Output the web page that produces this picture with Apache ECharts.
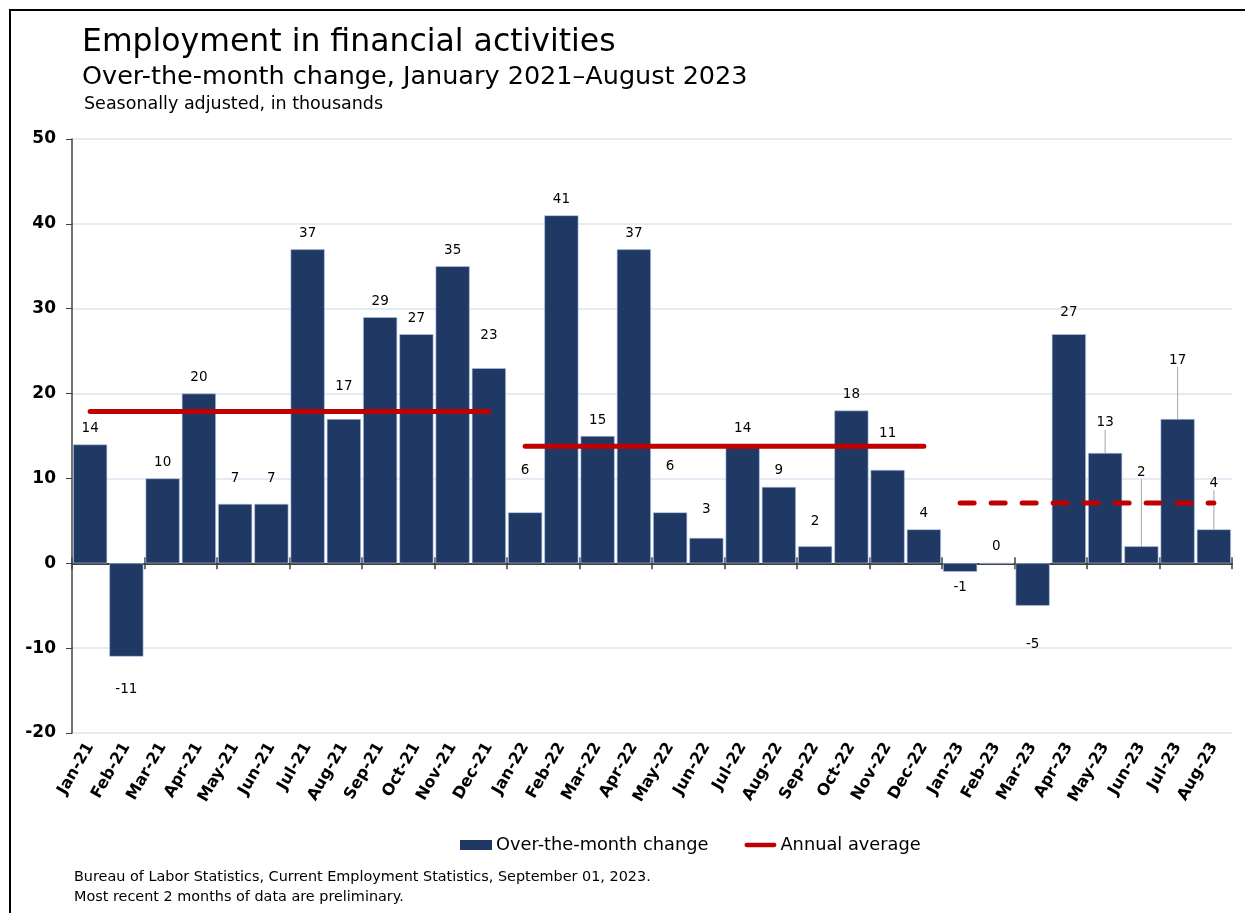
<!DOCTYPE html>
<html>
<head>
<meta charset="utf-8">
<script src="https://cdn.jsdelivr.net/npm/echarts@6/dist/echarts.min.js"></script>
<style>
  html, body { margin: 0; padding: 0; background: #fff; }
  #chart { width: 1245px; height: 913px; position: relative; }
  #frame { position: absolute; left: 9px; top: 9px; width: 1240px; height: 910px;
           border-top: 2px solid #000; border-left: 2px solid #000; pointer-events: none; }
</style>
</head>
<body>
<div id="chart"></div>
<div id="frame"></div>
<script>
// ---- data ----
const categories = ['Jan-21','Feb-21','Mar-21','Apr-21','May-21','Jun-21','Jul-21','Aug-21','Sep-21','Oct-21','Nov-21','Dec-21',
                    'Jan-22','Feb-22','Mar-22','Apr-22','May-22','Jun-22','Jul-22','Aug-22','Sep-22','Oct-22','Nov-22','Dec-22',
                    'Jan-23','Feb-23','Mar-23','Apr-23','May-23','Jun-23','Jul-23','Aug-23'];
const monthlyChange = [14, -11, 10, 20, 7, 7, 37, 17, 29, 27, 35, 23,
                       6, 41, 15, 37, 6, 3, 14, 9, 2, 18, 11, 4,
                       -1, 0, -5, 27, 13, 2, 17, 4];
const avgYears = ['21', '22', '23'];
const annualAverage = [17.9, 13.8, 7.1];
const yTicks = { min: -20, max: 50, interval: 10 };

// ---- label layout (style only: extra pixel nudge away from bar end) ----
const labelNudge = [0,17,0,0,9,9,0,17,0,0,0,17, 26,0,0,0,30,12,0,0,9,0,20,0, 0,0,23,6,14,58,43,30];
const leaderLineIdx = [28, 29, 30, 31];

const FONT = "'DejaVu Sans', Verdana, sans-serif";
const BOLD = "'DejaVu Sans', Verdana, sans-serif";

const barData = monthlyChange.map((v, i) => {
  const item = { value: v, label: { position: v < 0 ? 'bottom' : 'top' } };
  if (leaderLineIdx.includes(i)) {
    item.labelLine = { show: true, lineStyle: { color: '#A6A6A6', width: 1 } };
  }
  return item;
});

const avgSeries = avgYears.map((yy, k) => ({
  name: 'Annual average',
  type: 'line',
  xAxisIndex: 0,
  symbol: 'none',
  silent: true,
  z: 5,
  lineStyle: { color: '#C00000', width: 5, cap: 'round', type: k === 2 ? [14, 17] : 'solid' },
  itemStyle: { color: '#C00000' },
  data: categories.map(c => c.endsWith('-' + yy) ? annualAverage[k] : '-')
}));

const chart = echarts.init(document.getElementById('chart'), null, { renderer: 'canvas' });
chart.setOption({
  animation: false,
  backgroundColor: '#fff',
  title: [
    { text: 'Employment in financial activities', left: 82, top: 27, padding: 0,
      textStyle: { fontFamily: FONT, fontSize: 31.5, fontWeight: 'normal', color: '#000' } },
    { text: 'Over-the-month change, January 2021\u2013August 2023', left: 82, top: 64, padding: 0,
      textStyle: { fontFamily: FONT, fontSize: 25.5, fontWeight: 'normal', color: '#000' } },
    { text: 'Seasonally adjusted, in thousands', left: 84, top: 95, padding: 0,
      textStyle: { fontFamily: FONT, fontSize: 17.5, fontWeight: 'normal', color: '#000' } },
    { text: 'Bureau of Labor Statistics, Current Employment Statistics, September 01, 2023.\nMost recent 2 months of data are preliminary.',
      left: 74, top: 867, padding: 0,
      textStyle: { fontFamily: FONT, fontSize: 14.4, lineHeight: 20, fontWeight: 'normal', color: '#000' } }
  ],
  legend: {
    left: 455, top: 831,
    itemWidth: 32, itemHeight: 10, itemGap: 36,
    itemStyle: { borderWidth: 0 },
    textStyle: { fontFamily: FONT, fontSize: 17.8, color: '#000', padding: [0, 0, 0, -1] },
    data: [
      { name: 'Over-the-month change', icon: 'rect' },
      { name: 'Annual average', icon: 'path://M2.5,0 L34.5,0 A2.5,2.5 0 0 1 34.5,5 L2.5,5 A2.5,2.5 0 0 1 2.5,0 Z' }
    ]
  },
  grid: { left: 72, right: 13, top: 139, bottom: 180 },
  xAxis: [
    { type: 'category', data: categories, position: 'bottom',
      axisLine: { show: false, onZero: false }, axisTick: { show: false },
      axisLabel: { rotate: 60, interval: 0, margin: 11, fontFamily: BOLD, fontWeight: 'bold', fontSize: 16, color: '#000' } },
    { type: 'category', data: categories, position: 'bottom',
      axisLine: { show: true, onZero: true, onZeroAxisIndex: 0, lineStyle: { color: '#404040', width: 2 } },
      axisTick: { show: true, length: 6, lineStyle: { color: '#404040', width: 1.5 } },
      axisLabel: { show: false }, splitLine: { show: false } },
    { type: 'category', data: categories, position: 'bottom',
      axisLine: { show: false, onZero: true, onZeroAxisIndex: 0 },
      axisTick: { show: true, inside: true, length: 6, lineStyle: { color: '#404040', width: 1.5 } },
      axisLabel: { show: false }, splitLine: { show: false } }
  ],
  yAxis: {
    type: 'value', min: yTicks.min, max: yTicks.max, interval: yTicks.interval,
    axisLine: { show: true, lineStyle: { color: '#404040', width: 1.5 } },
    axisTick: { show: true, length: 6, lineStyle: { color: '#404040' } },
    axisLabel: { fontFamily: BOLD, fontWeight: 'bold', fontSize: 17, color: '#000', margin: 16 },
    splitLine: { show: true, lineStyle: { color: '#DCE4F2', width: 1.5 } }
  },
  series: [
    {
      name: 'Over-the-month change',
      type: 'bar',
      xAxisIndex: 0,
      barCategoryGap: '6%',
      z: 3,
      itemStyle: { color: '#203864', borderColor: '#B4C6E7', borderWidth: 0.6 },
      label: { show: true, distance: 9, fontFamily: FONT, fontSize: 13.5, color: '#000' },
      labelLine: { show: false },
      labelLayout: function (p) {
        const n = labelNudge[p.dataIndex] || 0;
        const v = monthlyChange[p.dataIndex];
        return { dy: v < 0 ? n : -n };
      },
      data: barData
    },
    ...avgSeries
  ]
});
</script>
</body>
</html>
